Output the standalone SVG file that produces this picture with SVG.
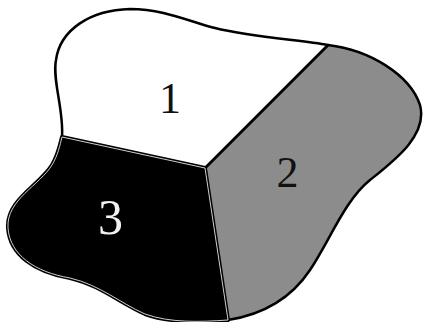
<svg xmlns="http://www.w3.org/2000/svg" width="423" height="322" viewBox="0 0 423 322">
<style>
.lbl{font-family:"Liberation Serif","Times New Roman",serif;text-anchor:middle}
.edge{stroke:#000;stroke-width:2.5;stroke-linejoin:round}
</style>
<rect width="423" height="322" fill="#fff"/>
<g id="region2">
<path class="edge" fill="#8c8c8c" d="M328,45 C370,50 410,75 420,105 C428,135 395,160 370,180 C345,200 330,240 310,270 C290,300 260,315 228,320 L205,168 Z"/>
<text class="lbl" x="287.5" y="187" font-size="44" fill="#111">2</text>
</g>
<g id="region1">
<path class="edge" fill="#fff" d="M62,137 C64,110 52,80 56,60 C60,30 90,10 130,9 C165,9 190,22 215,28 C250,37 300,40 328,45 L205,168 Z"/>
<text class="lbl" x="170" y="113" font-size="44" fill="#111">1</text>
</g>
<g id="region3">
<path fill="#000" stroke="#000" stroke-width="4" stroke-linejoin="round" d="M62,137 L205,168 L228,320 C200,322 170,323 145,314 C120,303 100,285 70,278 C35,272 10,255 8,228 C6,200 40,185 52,165 C58,155 60,145 62,137 Z"/>
<path fill="none" stroke="#e6e6e6" stroke-width="0.9" stroke-linejoin="round" d="M62,137 L205,168 L228,320 C200,322 170,323 145,314 C120,303 100,285 70,278 C35,272 10,255 8,228 C6,200 40,185 52,165 C58,155 60,145 62,137 Z"/>
<text class="lbl" x="110.5" y="234" font-size="50" fill="#f2f2f2">3</text>
</g>
</svg>
